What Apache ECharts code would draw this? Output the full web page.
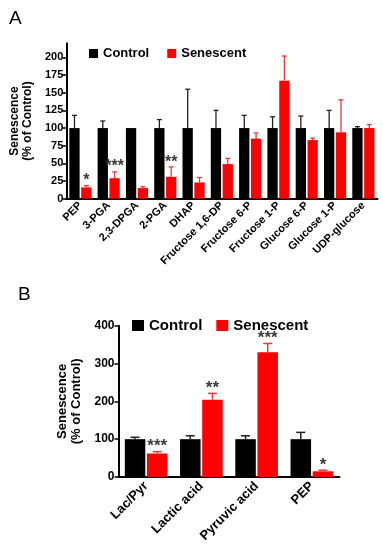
<!DOCTYPE html>
<html>
<head>
<meta charset="utf-8">
<script src="https://cdn.jsdelivr.net/npm/echarts@6/dist/echarts.min.js"></script>
<style>html,body{margin:0;padding:0;background:#fff;}#c{width:383px;height:550px;}</style>
</head>
<body>
<div id="c"></div>
<script>
// ---- Panel A data ----
const categoriesA = ['PEP','3-PGA','2,3-DPGA','2-PGA','DHAP','Fructose 1,6-DP','Fructose 6-P','Fructose 1-P','Glucose 6-P','Glucose 1-P','UDP-glucose'];
const controlA = [100,100,100,100,100,100,100,100,100,100,100];
const controlSdA = [18,10,0,12,55,25,18,16,17,25,2];
const senescentA = [16,29,15,31,23,49,85,167,83,94,100];
const senescentSdA = [2.5,9,2,14,7,8,8,35,2.5,46,5];
const starsA = ['*','***','','**','','','','','','',''];
const yTicksA = [0,25,50,75,100,125,150,175,200];

// ---- Panel B data ----
const categoriesB = ['Lac/Pyr','Lactic acid','Pyruvic acid','PEP'];
const controlB = [100,100,100,100];
const controlSdB = [5,9,9,18];
const senescentB = [62,204,330,15];
const senescentSdB = [5,17,23,3];
const starsB = ['***','**','***','*'];
const yTicksB = [0,100,200,300,400];

const FONT = 'Liberation Sans, Arial, sans-serif';
const chart = echarts.init(document.getElementById('c'), null, {renderer:'canvas'});

function errSeries(name, xIdx, means, sds, stars, offset, cap, color, starSize, lw) {
  return {
    type: 'custom', name: name, xAxisIndex: xIdx, yAxisIndex: xIdx, z: 5,
    silent: true, legendHoverLink: false,
    data: means.map((m, i) => [i, m, m + sds[i], stars[i]]),
    encode: {x: 0, y: [1, 2]},
    clip: false,
    renderItem: function (params, api) {
      const i = api.value(0);
      const p0 = api.coord([i, api.value(1)]);
      const p1 = api.coord([i, api.value(2)]);
      const x = p0[0] + offset;
      const children = [];
      if (p0[1] - p1[1] > 0.5) {
        children.push({type:'line', shape:{x1:x, y1:p0[1], x2:x, y2:p1[1]}, style:{stroke:color, lineWidth:lw}});
        children.push({type:'line', shape:{x1:x - cap/2, y1:p1[1], x2:x + cap/2, y2:p1[1]}, style:{stroke:color, lineWidth:lw}});
      }
      const s = stars[i];
      if (s) {
        children.push({type:'text', style:{text:s, x:x, y:p1[1] + starSize*0.2, align:'center', verticalAlign:'bottom', fill:'#3a3a3a', font:'bold ' + starSize + 'px ' + FONT}});
      }
      return {type:'group', children: children};
    }
  };
}

const option = {
  animation: false,
  backgroundColor: '#fff',
  title: [
    {text:'A', left:4, top:4, textStyle:{fontSize:19, fontWeight:'normal', color:'#000', fontFamily:FONT}},
    {text:'B', left:13, top:280, textStyle:{fontSize:19, fontWeight:'normal', color:'#000', fontFamily:FONT}}
  ],
  legend: [
    {left:84, top:42, icon:'rect', itemWidth:9, itemHeight:9, itemGap:18,
     data:['Control','Senescent'], selectedMode:false,
     textStyle:{fontSize:13, fontWeight:'bold', color:'#000', fontFamily:FONT}},
    {left:127, top:313, icon:'rect', itemWidth:12, itemHeight:11, itemGap:14,
     data:['Control','Senescent'], selectedMode:false,
     textStyle:{fontSize:15, fontWeight:'bold', color:'#000', fontFamily:FONT}}
  ],
  grid: [
    {left:60, top:43.3, width:317.5, height:155.4},
    {left:118.5, top:325.7, width:221, height:151.3}
  ],
  xAxis: [
    {type:'category', gridIndex:0, data:categoriesA,
     axisLine:{lineStyle:{color:'#000', width:2}},
     axisTick:{alignWithLabel:true, length:4, lineStyle:{color:'#000', width:1.5}},
     axisLabel:{rotate:45, interval:0, margin:5, fontSize:11, fontWeight:'bold', color:'#000', fontFamily:FONT}},
    {type:'category', gridIndex:1, data:categoriesB,
     axisLine:{lineStyle:{color:'#000', width:2}},
     axisTick:{alignWithLabel:true, length:5, lineStyle:{color:'#000', width:1.5}},
     axisLabel:{rotate:45, interval:0, margin:7, fontSize:13, fontWeight:'bold', color:'#000', fontFamily:FONT}}
  ],
  yAxis: [
    {type:'value', gridIndex:0, min:0, max:220, interval:25,
     name:'Senescence\n(% of Control)', nameLocation:'middle', nameRotate:90, nameGap:30,
     nameTextStyle:{fontSize:12, fontWeight:'bold', color:'#000', fontFamily:FONT, lineHeight:13},
     splitLine:{show:false},
     axisLine:{show:true, lineStyle:{color:'#000', width:2}},
     axisTick:{show:true, length:4, customValues:yTicksA, lineStyle:{color:'#000', width:1.5}},
     axisLabel:{margin:3, customValues:yTicksA, fontSize:11, fontWeight:'bold', color:'#000', fontFamily:FONT}},
    {type:'value', gridIndex:1, min:0, max:400, interval:100,
     name:'Senescence\n(% of Control)', nameLocation:'middle', nameRotate:90, nameGap:34,
     nameTextStyle:{fontSize:13, fontWeight:'bold', color:'#000', fontFamily:FONT, lineHeight:14},
     splitLine:{show:false},
     axisLine:{show:true, lineStyle:{color:'#000', width:2}},
     axisTick:{show:true, length:4, customValues:yTicksB, lineStyle:{color:'#000', width:1.5}},
     axisLabel:{margin:4, customValues:yTicksB, fontSize:12, fontWeight:'bold', color:'#000', fontFamily:FONT}}
  ],
  series: [
    {type:'bar', name:'Control', xAxisIndex:0, yAxisIndex:0, data:controlA, barWidth:10.3, barGap:'15%', itemStyle:{color:'#000'}},
    {type:'bar', name:'Senescent', xAxisIndex:0, yAxisIndex:0, data:senescentA, barWidth:10.3, barGap:'15%', itemStyle:{color:'#ff0000'}},
    errSeries('errCA', 0, controlA, controlSdA, controlA.map(()=>''), -5.9, 5, '#222', 16, 1.3),
    errSeries('errSA', 0, senescentA, senescentSdA, starsA, 5.9, 5, '#e83a3a', 16, 1.3),
    {type:'bar', name:'Control', xAxisIndex:1, yAxisIndex:1, data:controlB, barWidth:20.5, barGap:'8%', itemStyle:{color:'#000'}},
    {type:'bar', name:'Senescent', xAxisIndex:1, yAxisIndex:1, data:senescentB, barWidth:20.5, barGap:'8%', itemStyle:{color:'#ff0000'}},
    errSeries('errCB', 1, controlB, controlSdB, controlB.map(()=>''), -11.1, 9, '#222', 17, 1.5),
    errSeries('errSB', 1, senescentB, senescentSdB, starsB, 11.1, 9, '#e83a3a', 17, 1.5)
  ]
};
chart.setOption(option);
</script>
</body>
</html>
